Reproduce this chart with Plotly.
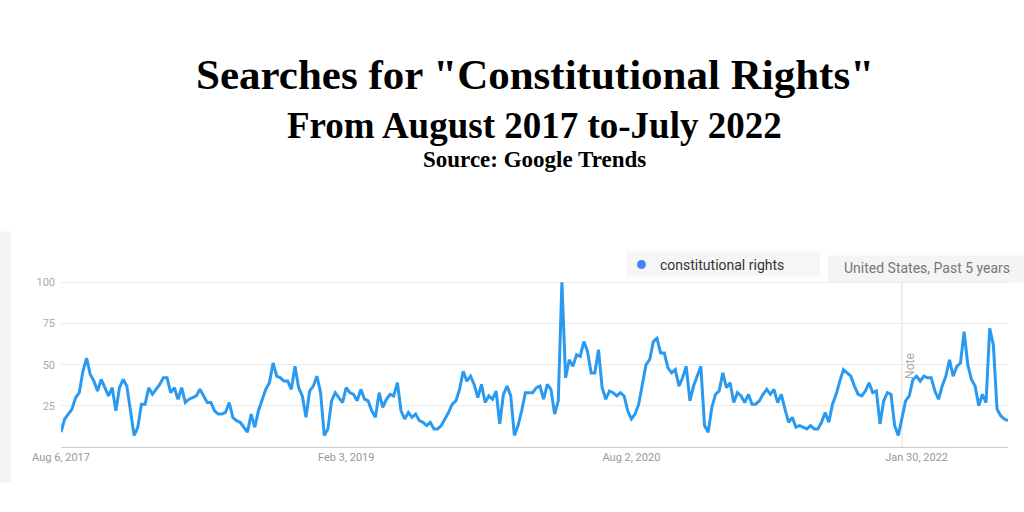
import pandas as pd
import plotly.graph_objects as go

# ---- data (weekly Google Trends interest) ----
start_date = "2017-08-06"
seg1 = [9, 17, 20, 23, 30, 33, 46, 54, 44, 40, 34, 41, 36, 31, 36, 22, 36, 41, 37, 23, 7, 12,
        26, 26, 36, 32, 35, 38, 42, 42, 33, 36, 29, 36, 27, 29, 30, 31, 35, 31, 27, 27, 22]
seg2 = [20, 20, 21, 27, 18, 16, 15, 12, 9, 20, 12, 22, 29, 35, 39, 51, 43, 42, 40, 40, 35, 49,
        36, 31, 18, 34, 37, 43, 33, 7, 11, 28, 33, 30, 27, 36, 33, 32, 28, 35, 29, 28, 22]
seg3 = [18, 33, 24, 29, 32, 31, 39, 22, 17, 21, 18, 20, 16, 15, 13, 15, 11, 11, 13, 17, 21, 26,
        28, 35, 46, 40, 43, 38, 30, 38, 27, 31, 29, 34, 14, 32, 37, 31, 7, 13, 22, 33, 33]
seg4 = [33, 36, 37, 29, 38, 35, 20, 28, 100, 42, 53, 49, 56, 55, 64, 58, 45, 45, 59, 36, 29, 34,
        33, 31, 33, 31, 22, 17, 20, 26, 39, 50, 53, 64, 66, 57, 57, 48, 45, 47, 37, 42, 49]
seg5 = [28, 37, 43, 49, 13, 9, 24, 32, 34, 45, 36, 39, 27, 33, 31, 27, 32, 26, 26, 28, 32, 35,
        32, 35, 27, 32, 23, 15, 18, 12, 13, 12, 11, 13, 11, 11, 15, 21, 15, 26, 32, 40, 47]
seg6 = [45, 43, 37, 32, 31, 34, 39, 33, 34, 14, 28, 33, 32, 13, 7, 18, 28, 31, 41, 43, 40, 43,
        42, 42, 34, 29, 37, 43, 53, 43, 49, 51, 70, 50, 41, 37, 25, 32, 27, 72, 62, 23, 19, 17, 16]
values = seg1 + seg2 + seg3 + seg4 + seg5 + seg6
dates = pd.date_range(start_date, periods=len(values), freq="7D")

x_tick_dates = ["2017-08-06", "2019-02-03", "2020-08-02", "2022-01-30"]
x_tick_text = ["Aug 6, 2017", "Feb 3, 2019", "Aug 2, 2020", "Jan 30, 2022"]
y_ticks = [25, 50, 75, 100]
note_date = "2022-01-02"
series_name = "constitutional rights"

# ---- layout geometry (pixels) ----
W, H = 1024, 512
L, R, T, B = 61, 1008, 279.4, 446.7
def px(x):
    return (x - L) / (R - L)
def py(y):
    return (B - y) / (B - T)

fig = go.Figure()
fig.add_trace(go.Scatter(x=dates, y=values, mode="lines", name=series_name,
                         line=dict(color="#2a9af0", width=3), hoverinfo="x+y"))

title_font = "Liberation Serif"
annotations = [
    dict(text="<b>Searches for \"Constitutional Rights\"</b>", x=0.5, y=py(76),
         font=dict(family=title_font, size=43, color="#000")),
    dict(text="<b>From August 2017 to-July 2022</b>", x=0.5, y=py(127),
         font=dict(family=title_font, size=37, color="#000")),
    dict(text="<b>Source: Google Trends</b>", x=0.5, y=py(160),
         font=dict(family=title_font, size=23, color="#000")),
    dict(text=series_name, x=px(658), y=py(265), xanchor="left",
         font=dict(family="Roboto", size=14, color="#333")),
    dict(text="United States, Past 5 years", x=px(842), y=py(268), xanchor="left",
         font=dict(family="Roboto", size=14, color="#777")),
    dict(text="Note", x=note_date, xref="x", y=py(366), textangle=-90, xshift=8,
         font=dict(family="Roboto", size=12, color="#aaa")),
]
for a in annotations:
    a.setdefault("xref", "paper")
    a["yref"] = "paper"
    a.setdefault("xanchor", "center")
    a["yanchor"] = "middle"
    a["showarrow"] = False

shapes = [
    dict(type="rect", xref="paper", yref="paper", x0=px(0), x1=px(11), y0=py(482), y1=py(232),
         fillcolor="#f3f3f3", line=dict(width=0), layer="below"),
    dict(type="rect", xref="paper", yref="paper", x0=px(627), x1=px(820), y0=py(277), y1=py(252),
         fillcolor="#f6f6f6", line=dict(width=0), layer="below"),
    dict(type="rect", xref="paper", yref="paper", x0=px(828), x1=px(1024), y0=py(283), y1=py(256),
         fillcolor="#f4f4f4", line=dict(width=0), layer="below"),
    dict(type="circle", xref="paper", yref="paper", x0=px(637), x1=px(646), y0=py(269.5), y1=py(260.5),
         fillcolor="#4285f4", line=dict(width=0)),
    dict(type="line", xref="x", yref="y", x0=note_date, x1=note_date, y0=0, y1=100,
         line=dict(color="#dddddd", width=1), layer="below"),
]

fig.update_layout(
    width=W, height=H,
    margin=dict(l=L, r=W - R, t=T, b=H - B),
    paper_bgcolor="white", plot_bgcolor="white",
    showlegend=False,
    annotations=annotations, shapes=shapes,
    xaxis=dict(range=[dates[0], dates[-1]], tickmode="array",
               tickvals=x_tick_dates, ticktext=x_tick_text,
               showgrid=False, zeroline=False, showline=False, ticklabelstandoff=2,
               tickfont=dict(family="Roboto", size=11, color="#999"), ticks=""),
    yaxis=dict(range=[0, 102], tickmode="array", tickvals=y_ticks,
               showgrid=True, gridcolor="#ebebeb", gridwidth=1,
               zeroline=True, zerolinecolor="#cccccc", zerolinewidth=1,
               showline=False, ticks="", ticklabelstandoff=5,
               tickfont=dict(family="Roboto", size=11, color="#aaa")),
)

fig.write_html("out.html", config={"displayModeBar": False},
               post_script="document.body.style.margin='0';")
